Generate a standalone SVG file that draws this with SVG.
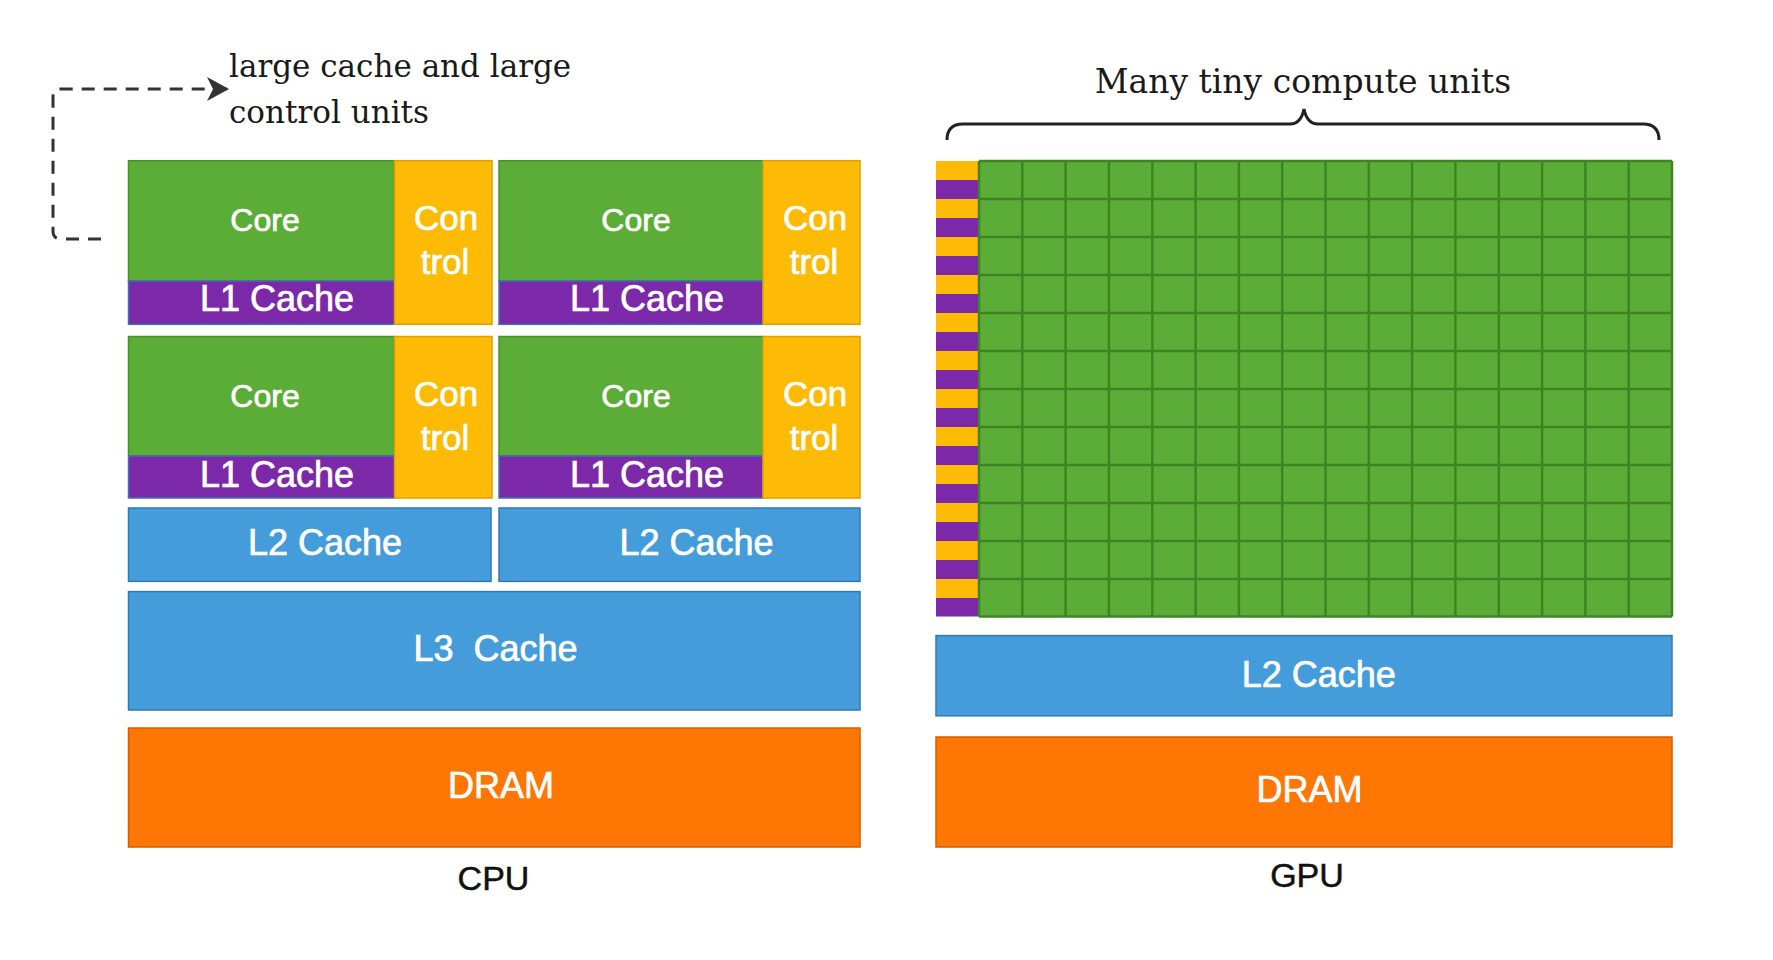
<svg xmlns="http://www.w3.org/2000/svg" width="1773" height="960" viewBox="0 0 1773 960">
<style>
.core{fill:#5cad37;stroke:#4a9029;stroke-width:1.5}
.l1{fill:#7b29a8;stroke:#3f6fae;stroke-width:1.5}
.ctl{fill:#febb05;stroke:#e0a000;stroke-width:1.5}
.blue{fill:#449dda;stroke:#2f7ab5;stroke-width:1.5}
.dram{fill:#fe7604;stroke:#d65d00;stroke-width:1.5}
.w{font-family:"Liberation Sans",Arial,sans-serif;fill:#ffffff;stroke:#ffffff;stroke-width:0.7;text-anchor:middle}
.k{font-family:"Liberation Sans",Arial,sans-serif;fill:#111111;stroke:#111111;stroke-width:0.5;text-anchor:middle}
.serif{font-family:"DejaVu Serif","Liberation Serif",serif;fill:#1a1a1a}
.grid{fill:none;stroke:#3f8423;stroke-width:2.5}
.ys{fill:#febb05}
.ps{fill:#7b29a8}
</style>
<defs>
<marker id="ah" markerUnits="userSpaceOnUse" markerWidth="26" markerHeight="26" refX="22" refY="12" orient="auto">
<path d="M0,0 L22,12 L0,24 L6,12 Z" fill="#333333"/>
</marker>
</defs>
<rect width="1773" height="960" fill="#ffffff"/>

<g id="annotation">
<text class="serif" x="229" y="77" font-size="31">large cache and large</text>
<text class="serif" x="229" y="123" font-size="31">control units</text>
</g>

<g id="connectors">
<path d="M101,239 L61,239 Q53,239 53,231 L53,97 Q53,89 61,89 L229,89" fill="none" stroke="#333333" stroke-width="3" stroke-dasharray="13,9" marker-end="url(#ah)"/>
</g>

<g id="cpu-cell-1">
<rect class="core" x="128.5" y="160.7" width="266" height="120.3"/>
<rect class="l1" x="128.5" y="281" width="266" height="43.3"/>
<rect class="ctl" x="394.6" y="160.7" width="97.4" height="163.6"/>
<text class="w" x="265" y="231" font-size="32">Core</text>
<text class="w" x="446" y="230" font-size="35">Con</text>
<text class="w" x="445" y="274" font-size="35">trol</text>
<text class="w" x="277" y="311" font-size="36">L1 Cache</text>
</g>

<g id="cpu-cell-2">
<rect class="core" x="499" y="160.7" width="264" height="120.3"/>
<rect class="l1" x="499" y="281" width="264" height="43.3"/>
<rect class="ctl" x="763" y="160.7" width="97" height="163.6"/>
<text class="w" x="636" y="231" font-size="32">Core</text>
<text class="w" x="815" y="230" font-size="35">Con</text>
<text class="w" x="814" y="274" font-size="35">trol</text>
<text class="w" x="647" y="311" font-size="36">L1 Cache</text>
</g>

<g id="cpu-cell-3">
<rect class="core" x="128.5" y="336.5" width="266" height="119.5"/>
<rect class="l1" x="128.5" y="456" width="266" height="42"/>
<rect class="ctl" x="394.6" y="336.5" width="97.4" height="161.5"/>
<text class="w" x="265" y="407" font-size="32">Core</text>
<text class="w" x="446" y="406" font-size="35">Con</text>
<text class="w" x="445" y="450" font-size="35">trol</text>
<text class="w" x="277" y="487" font-size="36">L1 Cache</text>
</g>

<g id="cpu-cell-4">
<rect class="core" x="499" y="336.5" width="264" height="119.5"/>
<rect class="l1" x="499" y="456" width="264" height="42"/>
<rect class="ctl" x="763" y="336.5" width="97" height="161.5"/>
<text class="w" x="636" y="407" font-size="32">Core</text>
<text class="w" x="815" y="406" font-size="35">Con</text>
<text class="w" x="814" y="450" font-size="35">trol</text>
<text class="w" x="647" y="487" font-size="36">L1 Cache</text>
</g>

<g id="cpu-l2-left">
<rect class="blue" x="128.5" y="508" width="362.5" height="73.4"/>
<text class="w" x="325" y="554.5" font-size="36">L2 Cache</text>
</g>
<g id="cpu-l2-right">
<rect class="blue" x="499" y="508" width="361" height="73.4"/>
<text class="w" x="696.6" y="554.5" font-size="36">L2 Cache</text>
</g>
<g id="cpu-l3">
<rect class="blue" x="128.5" y="591.6" width="731.5" height="118.4"/>
<text class="w" x="495.6" y="660.5" font-size="36" xml:space="preserve">L3  Cache</text>
</g>
<g id="cpu-dram">
<rect class="dram" x="128.5" y="728" width="731.5" height="119"/>
<text class="w" x="501" y="797.5" font-size="36">DRAM</text>
</g>
<g id="cpu-label">
<text class="k" x="493.5" y="890" font-size="34">CPU</text>
</g>

<g id="gpu-label-top">
<text class="serif" x="1303" y="93" font-size="33" text-anchor="middle">Many tiny compute units</text>
<path d="M947,140 Q947,124 963,124 L1290,124 Q1301,124 1304,109 Q1307,124 1318,124 L1643,124 Q1659,124 1659,140" fill="none" stroke="#222222" stroke-width="3"/>
</g>

<g id="gpu-compute">
<rect x="979" y="161" width="693" height="455.5" fill="#5cad37"/>
<g>
<rect class="ys" x="936" y="161.0" width="43" height="19"/><rect class="ps" x="936" y="180.0" width="43" height="19"/>
<rect class="ys" x="936" y="199.0" width="43" height="19"/><rect class="ps" x="936" y="218.0" width="43" height="19"/>
<rect class="ys" x="936" y="237.0" width="43" height="19"/><rect class="ps" x="936" y="256.0" width="43" height="19"/>
<rect class="ys" x="936" y="275.0" width="43" height="19"/><rect class="ps" x="936" y="294.0" width="43" height="19"/>
<rect class="ys" x="936" y="313.0" width="43" height="19"/><rect class="ps" x="936" y="332.0" width="43" height="19"/>
<rect class="ys" x="936" y="351.0" width="43" height="19"/><rect class="ps" x="936" y="370.0" width="43" height="19"/>
<rect class="ys" x="936" y="389.0" width="43" height="19"/><rect class="ps" x="936" y="408.0" width="43" height="19"/>
<rect class="ys" x="936" y="427.0" width="43" height="19"/><rect class="ps" x="936" y="446.0" width="43" height="19"/>
<rect class="ys" x="936" y="465.0" width="43" height="19"/><rect class="ps" x="936" y="484.0" width="43" height="19"/>
<rect class="ys" x="936" y="503.0" width="43" height="19"/><rect class="ps" x="936" y="522.0" width="43" height="19"/>
<rect class="ys" x="936" y="541.0" width="43" height="19"/><rect class="ps" x="936" y="560.0" width="43" height="19"/>
<rect class="ys" x="936" y="579.0" width="43" height="19"/><rect class="ps" x="936" y="598.0" width="43" height="18.5"/>
</g>
<path class="grid" d="M979,161 V616.5 M1022.3,161 V616.5 M1065.6,161 V616.5 M1108.9,161 V616.5 M1152.3,161 V616.5 M1195.6,161 V616.5 M1238.9,161 V616.5 M1282.2,161 V616.5 M1325.5,161 V616.5 M1368.8,161 V616.5 M1412.1,161 V616.5 M1455.4,161 V616.5 M1498.8,161 V616.5 M1542.1,161 V616.5 M1585.4,161 V616.5 M1628.7,161 V616.5 M1672,161 V616.5 M979,161 H1672 M979,199 H1672 M979,237 H1672 M979,275 H1672 M979,313 H1672 M979,351 H1672 M979,389 H1672 M979,427 H1672 M979,465 H1672 M979,503 H1672 M979,541 H1672 M979,579 H1672 M979,616.5 H1672"/>
</g>

<g id="gpu-l2">
<rect class="blue" x="936" y="635.6" width="736" height="80.2"/>
<text class="w" x="1318.7" y="686.5" font-size="36">L2 Cache</text>
</g>
<g id="gpu-dram">
<rect class="dram" x="936" y="737" width="736" height="110"/>
<text class="w" x="1309.6" y="801.5" font-size="36">DRAM</text>
</g>
<g id="gpu-label">
<text class="k" x="1307" y="887" font-size="34">GPU</text>
</g>
</svg>
